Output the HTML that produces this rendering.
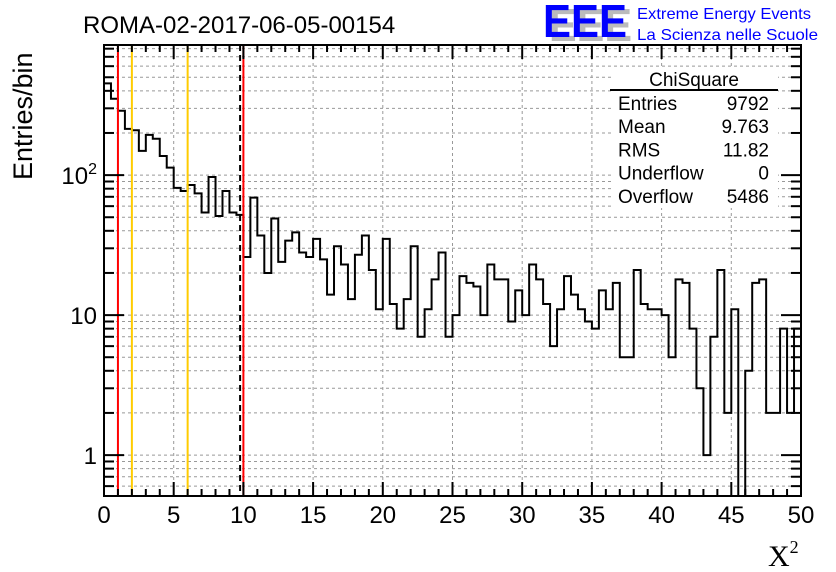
<!DOCTYPE html>
<html><head><meta charset="utf-8"><style>
html,body{margin:0;padding:0;background:#fff;}
svg{display:block;font-family:"Liberation Sans",sans-serif;}
</style></head><body>
<svg id="c" width="836" height="572" viewBox="0 0 836 572"></svg>
<script>
const binEdges = [0, 50];
const nBins = 100;
const counts = [452,351,288,214,209,149,194,182,137,113,
81,77,85,74,54,97,51,77,54,52,
26,69,37,20,49,24,34,39,28,26,
35,25,14,31,23,13,27,37,21,11,
35,12,8,13,31,7,11,18,28,7,
10,19,17,16,10,23,18,18,9,15,
10,23,18,12,6,11,19,14,11,9,
8,15,11,17,5,5,21,12,11,11,
10,5,18,17,8,3,1,7,21,2,
11,0,4,17,18,2,2,8,2,8];
const xTickLabels = [0,5,10,15,20,25,30,35,40,45,50];
const yTickLabels = ["1","10","10²"];
const cutLines = [1, 2, 6, 10];
const meanValue = 9.763;
const statNames = ["Entries","Mean","RMS","Underflow","Overflow"];
const statValues = ["9792","9.763","11.82","0","5486"];

const NS="http://www.w3.org/2000/svg";
const svg=document.getElementById('c');
const X0=104,X1=801,Y0=45,Y1=496;
const yLogMin=Math.log10(0.51), yLogMax=Math.log10(850);
function sx(v){return X0+(v-binEdges[0])/(binEdges[1]-binEdges[0])*(X1-X0);}
function sy(v){return Y1-(Math.log10(v)-yLogMin)/(yLogMax-yLogMin)*(Y1-Y0);}
function el(t,a,p){const e=document.createElementNS(NS,t);for(const k in a)e.setAttribute(k,a[k]);(p||svg).appendChild(e);return e;}

const grid=el('g',{});


for(const t of xTickLabels){if(t===0||t===50)continue;el('line',{x1:sx(t),x2:sx(t),y1:Y0,y2:Y1,stroke:'#999','stroke-width':1,'stroke-dasharray':'3,3'},grid);}
for(let d=-1;d<=2;d++)for(let m=1;m<=9;m++){const v=m*Math.pow(10,d);const y=sy(v);if(y<Y0||y>Y1)continue;
 el('line',{x1:X0,x2:X1,y1:y,y2:y,stroke:'#999','stroke-width':1,'stroke-dasharray':'3,3'},grid);}

const bw=(binEdges[1]-binEdges[0])/nBins;
let d='';
const floorY=Y1+10;
for(let i=0;i<nBins;i++){
 const xa=sx(binEdges[0]+i*bw), xb=sx(binEdges[0]+(i+1)*bw);
 const y=counts[i]>0?Math.max(sy(counts[i]),Y0):floorY;
 if(i===0)d+='M'+xa+' '+y;else d+='L'+xa+' '+y;
 d+='L'+xb+' '+y;
}
const cp=el('clipPath',{id:'pc'});el('rect',{x:X0,y:Y0,width:X1-X0,height:Y1-Y0},cp);
const h=el('path',{d:d,fill:'none',stroke:'#000','stroke-width':2,'clip-path':'url(#pc)'});



const cols=['#f00','#fc0','#fc0','#f00'];
cutLines.forEach((v,i)=>{const l=el('line',{x1:sx(v),x2:sx(v),y1:Y0,y2:Y1,stroke:cols[i],'stroke-width':2});
 
 });
const ml=el('line',{x1:sx(meanValue),x2:sx(meanValue),y1:Y0,y2:Y1,stroke:'#000','stroke-width':2,'stroke-dasharray':'6,4'});



const fr=el('rect',{x:X0,y:Y0,width:X1-X0,height:Y1-Y0,fill:'none',stroke:'#000','stroke-width':2});



for(let v=binEdges[0];v<=binEdges[1];v++){const maj=v%5===0;const L=maj?14:7;
 el('line',{x1:sx(v),x2:sx(v),y1:Y1,y2:Y1-L,stroke:'#000','stroke-width':2});
 el('line',{x1:sx(v),x2:sx(v),y1:Y0,y2:Y0+L,stroke:'#000','stroke-width':2});}
xTickLabels.forEach(t=>{const tx=el('text',{x:sx(t),y:523,'font-size':24,'text-anchor':'middle'});tx.textContent=t;
 
 });
for(let dd=-1;dd<=2;dd++)for(let m=1;m<=9;m++){const v=m*Math.pow(10,dd);const y=sy(v);if(y<Y0||y>Y1)continue;const L=m===1?20:10;
 el('line',{x1:X0,x2:X0+L,y1:y,y2:y,stroke:'#000','stroke-width':2});
 el('line',{x1:X1,x2:X1-L,y1:y,y2:y,stroke:'#000','stroke-width':2});}
yTickLabels.forEach((t,i)=>{const y=sy(Math.pow(10,i));const tx=el('text',{x:97,y:y+9,'font-size':24,'text-anchor':'end'});
 if(i===2){tx.textContent='10';const s=el('tspan',{dy:-10,'font-size':16},tx);s.textContent='2';}else tx.textContent=t;
 
 });

let t=el('text',{x:83,y:33,'font-size':24});t.textContent='ROMA-02-2017-06-05-00154';


t=el('text',{x:0,y:0,'font-size':27,transform:'translate(32,180) rotate(-90)'});t.textContent='Entries/bin';


t=el('text',{x:768,y:566,'font-size':30,'font-family':'Liberation Serif,serif'});t.textContent='X';
const sp=el('tspan',{dy:-13,'font-size':18},t);sp.textContent='2';



t=el('text',{x:549,y:41,'font-size':46,'font-weight':'bold',fill:'#bbb',textLength:83,lengthAdjust:'spacingAndGlyphs'});t.textContent='EEE';


t=el('text',{x:543,y:37,'font-size':46,'font-weight':'bold',fill:'#00f',textLength:84,lengthAdjust:'spacingAndGlyphs'});t.textContent='EEE';


t=el('text',{x:637,y:19,'font-size':16,fill:'#00f',textLength:174,lengthAdjust:'spacingAndGlyphs'});t.textContent='Extreme Energy Events';


t=el('text',{x:637,y:40,'font-size':16,fill:'#00f',textLength:181,lengthAdjust:'spacingAndGlyphs'});t.textContent='La Scienza nelle Scuole';



const sb=el('g',{});


el('rect',{x:611,y:68,width:167,height:140,fill:'#fff'},sb);
t=el('text',{x:694,y:86,'font-size':19,'text-anchor':'middle'},sb);t.textContent='ChiSquare';
el('line',{x1:610,x2:778,y1:90,y2:90,stroke:'#000','stroke-width':2},sb);
statNames.forEach((n,i)=>{const y=110+i*23.2;
 let a=el('text',{x:618,y:y,'font-size':19},sb);a.textContent=n;
 
 
 let b=el('text',{x:769,y:y,'font-size':19,'text-anchor':'end'},sb);b.textContent=statValues[i];
 
 });
</script>
</body></html>
